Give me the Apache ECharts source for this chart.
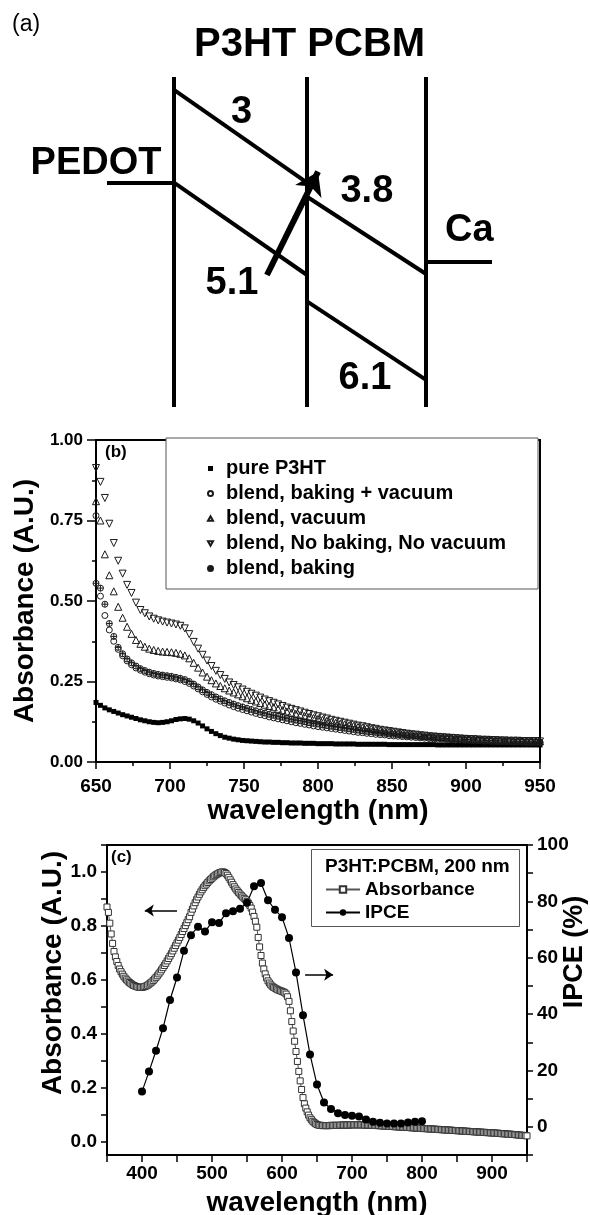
<!DOCTYPE html>
<html>
<head>
<meta charset="utf-8">
<title>P3HT:PCBM</title>
<script src="https://cdn.jsdelivr.net/npm/echarts@6/dist/echarts.min.js"></script>
<style>
  html, body { margin: 0; padding: 0; background: #fff; }
  #main { width: 590px; height: 1215px; }
</style>
</head>
<body>
<div id="main"></div>
<script>
// ---------- (a) energy diagram, in layer units (x: layer walls, y: depth 0..1) ----------
var layerEdgeX = [0, 1, 1.895];
var layerSpan = [0, 1];
var pedotLevel = [[-0.504, 0.32], [0, 0.32]];
var p3htLumo = [[0, 0.039], [1, 0.32]];
var p3htHomo = [[0, 0.32], [1, 0.6]];
var pcbmLumo = [[1, 0.363], [1.895, 0.597]];
var pcbmHomo = [[1, 0.68], [1.895, 0.918]];
var caLevel = [[1.895, 0.56], [2.391, 0.56]];
var transferArrow = [[0.699, 0.6], [1.083, 0.287]];
var levelNames = ['PEDOT', '3', '3.8', 'Ca', '5.1', '6.1'];
var levelNamePos = [[-0.586, 0.261], [0.508, 0.108], [1.45, 0.347], [2.22, 0.466], [0.436, 0.627], [1.436, 0.915]];

// ---------- (b) absorbance 650-950 nm, one point every 3 nm ----------
var bStart = 650, bStep = 3;
var bNames = ['pure P3HT', 'blend, baking + vacuum', 'blend, vacuum', 'blend, No baking, No vacuum', 'blend, baking'];
var pureP3HT = [
  0.185, 0.176, 0.168, 0.162, 0.157, 0.152, 0.147, 0.143, 0.139, 0.135,
  0.131, 0.128, 0.125, 0.123, 0.122, 0.123, 0.125, 0.128, 0.132, 0.134,
  0.135, 0.133, 0.128, 0.121, 0.112, 0.103, 0.095, 0.088, 0.082, 0.077,
  0.074, 0.071, 0.069, 0.067, 0.066, 0.065, 0.064, 0.063, 0.062, 0.062,
  0.061, 0.061, 0.060, 0.060, 0.059, 0.059, 0.059, 0.058, 0.058, 0.058,
  0.057, 0.057, 0.057, 0.057, 0.056, 0.056, 0.056, 0.056, 0.056, 0.055,
  0.055, 0.055, 0.055, 0.055, 0.055, 0.055, 0.054, 0.054, 0.054, 0.054,
  0.054, 0.054, 0.054, 0.054, 0.054, 0.054, 0.054, 0.053, 0.053, 0.053,
  0.053, 0.053, 0.053, 0.053, 0.053, 0.053, 0.053, 0.053, 0.053, 0.053,
  0.053, 0.053, 0.053, 0.053, 0.053, 0.053, 0.053, 0.053, 0.053, 0.053,
  0.053
];
var bakeVacuum = [
  0.765, 0.515, 0.455, 0.41, 0.375, 0.35, 0.33, 0.314, 0.302, 0.292,
  0.285, 0.279, 0.274, 0.27, 0.267, 0.265, 0.263, 0.261, 0.258, 0.255,
  0.25, 0.244, 0.236, 0.227, 0.218, 0.21, 0.202, 0.195, 0.189, 0.183,
  0.177, 0.172, 0.167, 0.163, 0.159, 0.155, 0.151, 0.147, 0.144, 0.14,
  0.137, 0.134, 0.131, 0.128, 0.125, 0.122, 0.12, 0.117, 0.115, 0.112,
  0.11, 0.108, 0.106, 0.104, 0.102, 0.1, 0.098, 0.096, 0.094, 0.092,
  0.091, 0.089, 0.088, 0.086, 0.085, 0.084, 0.082, 0.081, 0.08, 0.079,
  0.078, 0.077, 0.076, 0.075, 0.074, 0.073, 0.072, 0.071, 0.071, 0.07,
  0.069, 0.068, 0.068, 0.067, 0.067, 0.066, 0.066, 0.065, 0.065, 0.064,
  0.064, 0.063, 0.063, 0.063, 0.062, 0.062, 0.062, 0.061, 0.061, 0.061,
  0.06
];
var vacuumOnly = [
  0.81, 0.75, 0.645, 0.58, 0.53, 0.482, 0.448, 0.42, 0.398, 0.379,
  0.367, 0.358, 0.352, 0.348, 0.345, 0.343, 0.342, 0.341, 0.339, 0.336,
  0.331, 0.322, 0.308, 0.293, 0.278, 0.265, 0.254, 0.244, 0.236, 0.229,
  0.222, 0.216, 0.21, 0.204, 0.198, 0.193, 0.188, 0.183, 0.178, 0.174,
  0.17, 0.165, 0.161, 0.157, 0.153, 0.15, 0.146, 0.143, 0.14, 0.137,
  0.134, 0.131, 0.128, 0.125, 0.122, 0.119, 0.117, 0.114, 0.112, 0.109,
  0.107, 0.105, 0.103, 0.1, 0.098, 0.096, 0.094, 0.093, 0.091, 0.089,
  0.087, 0.086, 0.084, 0.083, 0.081, 0.08, 0.079, 0.078, 0.077, 0.076,
  0.075, 0.074, 0.073, 0.072, 0.071, 0.07, 0.07, 0.069, 0.068, 0.068,
  0.067, 0.067, 0.066, 0.066, 0.065, 0.065, 0.065, 0.064, 0.064, 0.064,
  0.064
];
var noBakeNoVac = [
  0.913, 0.87, 0.82, 0.74, 0.68, 0.625, 0.585, 0.55, 0.525, 0.495,
  0.472, 0.462, 0.452, 0.445, 0.44, 0.436, 0.433, 0.43, 0.427, 0.423,
  0.415, 0.397, 0.373, 0.352, 0.333, 0.315, 0.298, 0.283, 0.27, 0.258,
  0.247, 0.239, 0.232, 0.225, 0.218, 0.212, 0.206, 0.2, 0.194, 0.189,
  0.184, 0.179, 0.174, 0.169, 0.165, 0.161, 0.157, 0.153, 0.149, 0.145,
  0.142, 0.138, 0.135, 0.131, 0.128, 0.125, 0.122, 0.119, 0.116, 0.113,
  0.111, 0.108, 0.105, 0.103, 0.1, 0.098, 0.096, 0.094, 0.092, 0.09,
  0.088, 0.086, 0.085, 0.083, 0.082, 0.08, 0.079, 0.078, 0.077, 0.076,
  0.075, 0.074, 0.073, 0.072, 0.071, 0.071, 0.07, 0.069, 0.069, 0.068,
  0.068, 0.067, 0.067, 0.066, 0.066, 0.066, 0.065, 0.065, 0.065, 0.065,
  0.064
];
var bakeOnly = [
  0.555, 0.54, 0.49, 0.43, 0.39, 0.356, 0.336, 0.32, 0.308, 0.298,
  0.29, 0.284, 0.279, 0.275, 0.272, 0.27, 0.268, 0.266, 0.263, 0.26,
  0.256, 0.25, 0.242, 0.233, 0.224, 0.216, 0.209, 0.202, 0.196, 0.19,
  0.185, 0.18, 0.175, 0.171, 0.167, 0.163, 0.159, 0.155, 0.152, 0.148,
  0.145, 0.142, 0.139, 0.136, 0.133, 0.13, 0.128, 0.125, 0.122, 0.12,
  0.118, 0.115, 0.113, 0.111, 0.109, 0.107, 0.105, 0.103, 0.101, 0.099,
  0.097, 0.095, 0.094, 0.092, 0.09, 0.089, 0.087, 0.086, 0.085, 0.083,
  0.082, 0.081, 0.08, 0.079, 0.078, 0.077, 0.076, 0.075, 0.074, 0.073,
  0.072, 0.072, 0.071, 0.07, 0.07, 0.069, 0.068, 0.068, 0.067, 0.067,
  0.066, 0.066, 0.065, 0.065, 0.064, 0.064, 0.064, 0.063, 0.063, 0.063,
  0.062
];

// ---------- (c) absorbance (every 2 nm) and IPCE (every 10 nm) ----------
var absStart = 350, absStep = 2;
var absorbance = [
  0.87, 0.85, 0.81, 0.77, 0.735, 0.705, 0.685, 0.668, 0.653, 0.64,
  0.63, 0.621, 0.613, 0.606, 0.6, 0.595, 0.59, 0.586, 0.582, 0.579,
  0.577, 0.575, 0.573, 0.572, 0.572, 0.572, 0.573, 0.575, 0.577, 0.58,
  0.584, 0.588, 0.592, 0.597, 0.603, 0.609, 0.615, 0.622, 0.629, 0.637,
  0.645, 0.653, 0.661, 0.67, 0.679, 0.688, 0.697, 0.707, 0.717, 0.727,
  0.737, 0.747, 0.757, 0.768, 0.779, 0.79, 0.801, 0.812, 0.823, 0.834,
  0.85, 0.862, 0.874, 0.886, 0.897, 0.907, 0.917, 0.926, 0.934, 0.942,
  0.949, 0.955, 0.961, 0.967, 0.972, 0.977, 0.982, 0.986, 0.99, 0.993,
  0.996, 0.998, 1.0, 1.0, 0.998, 0.994, 0.988, 0.98, 0.971, 0.962,
  0.953, 0.945, 0.937, 0.93, 0.924, 0.918, 0.912, 0.907, 0.902, 0.897,
  0.891, 0.884, 0.876, 0.866, 0.851, 0.835, 0.817, 0.795, 0.757, 0.722,
  0.69, 0.662, 0.64, 0.622, 0.607, 0.596, 0.588, 0.581, 0.576, 0.572,
  0.569, 0.566, 0.563, 0.561, 0.559, 0.557, 0.555, 0.552, 0.547, 0.537,
  0.52, 0.485, 0.445, 0.41, 0.372, 0.334, 0.297, 0.26, 0.225, 0.193,
  0.163, 0.14, 0.124, 0.11, 0.098, 0.088, 0.081, 0.075, 0.07, 0.066,
  0.063, 0.061, 0.06, 0.06, 0.059, 0.059, 0.059, 0.059, 0.059, 0.059,
  0.06, 0.06, 0.06, 0.06, 0.06, 0.06, 0.06, 0.061, 0.061, 0.061,
  0.061, 0.061, 0.061, 0.061, 0.062, 0.062, 0.062, 0.062, 0.062, 0.062,
  0.062, 0.062, 0.062, 0.062, 0.061, 0.061, 0.061, 0.061, 0.061, 0.06,
  0.06, 0.06, 0.06, 0.059, 0.059, 0.059, 0.058, 0.058, 0.058, 0.057,
  0.057, 0.057, 0.056, 0.056, 0.056, 0.055, 0.055, 0.055, 0.054, 0.054,
  0.054, 0.053, 0.053, 0.053, 0.052, 0.052, 0.052, 0.051, 0.051, 0.051,
  0.05, 0.05, 0.05, 0.049, 0.049, 0.049, 0.048, 0.048, 0.048, 0.047,
  0.047, 0.047, 0.046, 0.046, 0.046, 0.045, 0.045, 0.045, 0.044, 0.044,
  0.044, 0.043, 0.043, 0.043, 0.042, 0.042, 0.042, 0.041, 0.041, 0.041,
  0.04, 0.04, 0.04, 0.039, 0.039, 0.039, 0.038, 0.038, 0.038, 0.037,
  0.037, 0.037, 0.036, 0.036, 0.036, 0.035, 0.035, 0.035, 0.034, 0.034,
  0.034, 0.033, 0.033, 0.033, 0.032, 0.032, 0.032, 0.031, 0.031, 0.031,
  0.03, 0.03, 0.029, 0.029, 0.029, 0.028, 0.028, 0.027, 0.027, 0.027,
  0.026, 0.026, 0.025, 0.025, 0.024, 0.024, 0.023, 0.023, 0.022, 0.022,
  0.021
];
var ipceStart = 400, ipceStep = 10;
var ipce = [
  12.5, 19.6, 27, 35, 45, 53, 62.5, 68, 71, 69.3,
  72.6, 72.3, 75.8, 76.5, 77.4, 79.5, 85.4, 86.5, 80.4, 77,
  74.4, 67, 54.8, 39.6, 25.7, 15, 8.6, 6.3, 4.8, 4.2,
  3.9, 3.7, 2.6, 1.8, 1.4, 1.2, 1.2, 1.2, 1.5, 1.8,
  2
];
var absArrow = [[450, 0.857], [404, 0.857]];
var ipceArrow = [[633, 54], [673, 54]];
var cAbsLabels = [0, 0.2, 0.4, 0.6, 0.8, 1.0];
var cAbsTicks = [0, 0.1, 0.2, 0.3, 0.4, 0.5, 0.6, 0.7, 0.8, 0.9, 1.0, 1.1];

var FONT = 'Liberation Sans, Arial, Helvetica, sans-serif';
var SYM_UP = 'path://M5,0L10,8.66L0,8.66Z';
var SYM_DOWN = 'path://M0,0L10,0L5,8.66Z';
var SYM_OPLUS = 'path://M5,0A5,5,0,1,1,5,10A5,5,0,1,1,5,0ZM0,5L10,5M5,0L5,10';

function pairs(start, step, values) {
  return values.map(function (v, i) { return [start + i * step, v]; });
}

function bSeries(name, values, symbol, size, filled) {
  return {
    name: name,
    type: 'scatter',
    xAxisIndex: 1,
    yAxisIndex: 1,
    symbol: symbol,
    symbolSize: size,
    itemStyle: filled
      ? { color: '#000', opacity: 1 }
      : { color: 'rgba(255,255,255,0)', borderColor: '#1a1a1a', borderWidth: 1, opacity: 1 },
    data: pairs(bStart, bStep, values)
  };
}

function boldText(size) {
  return { fontFamily: FONT, fontWeight: 'bold', fontSize: size, color: '#000' };
}

function axisCommon(extra) {
  var base = {
    type: 'value',
    splitLine: { show: false },
    axisLine: { show: true, onZero: false, lineStyle: { color: '#000', width: 2 } },
    axisTick: { show: true, length: 7, lineStyle: { color: '#000', width: 1.5 } },
    axisLabel: boldText(18)
  };
  for (var k in extra) base[k] = extra[k];
  return base;
}

var chart = echarts.init(document.getElementById('main'), null, { renderer: 'canvas' });

// walls and level segments of panel (a)
var segments = layerEdgeX.map(function (x) { return [[x, layerSpan[0]], [x, layerSpan[1]]]; })
  .concat([pedotLevel, p3htLumo, p3htHomo, pcbmLumo, pcbmHomo, caLevel]);

var option = {
  animation: false,
  backgroundColor: '#fff',
  title: [
    { text: '(a)', left: 12, top: 12, padding: 0,
      textStyle: { fontFamily: FONT, fontWeight: 'normal', fontSize: 23, color: '#000', lineHeight: 26 } },
    { text: 'P3HT PCBM', left: 194, top: 25, padding: 0,
      textStyle: Object.assign(boldText(40), { lineHeight: 40 }) },
    { text: '(b)', left: 105, top: 443, padding: 0,
      textStyle: Object.assign(boldText(17), { lineHeight: 18 }) },
    { text: '(c)', left: 111, top: 848, padding: 0,
      textStyle: Object.assign(boldText(17), { lineHeight: 18 }) }
  ],
  grid: [
    { left: 0, top: 0, width: 590, height: 420, outerBoundsMode: 'none' },
    { left: 96, top: 440, width: 444, height: 322, show: true, borderColor: '#000', borderWidth: 2, outerBoundsMode: 'none' },
    { left: 107, top: 845, width: 420, height: 310, show: true, borderColor: '#000', borderWidth: 2, outerBoundsMode: 'none' }
  ],
  legend: [
    {
      data: bNames,
      orient: 'vertical',
      left: 166, top: 438,
      itemWidth: 5, itemHeight: 5, itemGap: 0,
      padding: [18, 32, 8, 41],
      borderColor: '#555', borderWidth: 1,
      backgroundColor: '#fff',
      selectedMode: false,
      textStyle: Object.assign(boldText(20), { lineHeight: 25, padding: [0, 0, 0, 8] })
    },
    {
      data: ['Absorbance', 'IPCE'],
      orient: 'vertical',
      left: 325, top: 878,
      itemWidth: 34, itemHeight: 8, itemGap: 0,
      padding: 0,
      selectedMode: false,
      textStyle: Object.assign(boldText(19), { lineHeight: 23 })
    }
  ],
  xAxis: [
    { type: 'value', gridIndex: 0, min: -1.3083, max: 3.1278, show: false },
    axisCommon({
      gridIndex: 1, min: 650, max: 950, interval: 50,
      name: 'wavelength (nm)', nameLocation: 'middle', nameGap: 26, nameTextStyle: boldText(28),
      minorTick: { show: true, splitNumber: 2, length: 4, lineStyle: { color: '#000', width: 1.5 } },
      axisLabel: Object.assign(boldText(19), { margin: 15 })
    }),
    axisCommon({
      gridIndex: 2, min: 350, max: 950, interval: 50,
      name: 'wavelength (nm)', nameLocation: 'middle', nameGap: 34, nameTextStyle: boldText(28),
      axisLabel: Object.assign(boldText(19), {
        margin: 9,
        formatter: function (v) { return v % 100 === 0 ? String(v) : ''; }
      })
    })
  ],
  yAxis: [
    { type: 'value', gridIndex: 0, min: -0.2333, max: 1.0394, inverse: true, show: false },
    axisCommon({
      gridIndex: 1, min: 0, max: 1, interval: 0.25,
      name: 'Absorbance (A.U.)', nameLocation: 'middle', nameRotate: 90, nameGap: 57, nameTextStyle: boldText(28),
      minorTick: { show: true, splitNumber: 2, length: 4, lineStyle: { color: '#000', width: 1.5 } },
      axisTick: { show: true, length: 9, lineStyle: { color: '#000', width: 1.5 } },
      axisLabel: Object.assign(boldText(17), {
        margin: 13,
        formatter: function (v) { return v.toFixed(2); }
      })
    }),
    axisCommon({
      gridIndex: 2, min: -0.05, max: 1.1,
      axisTick: { show: true, length: 6, customValues: cAbsTicks, lineStyle: { color: '#000', width: 1.5 } },
      axisLabel: Object.assign(boldText(19), {
        margin: 10,
        customValues: cAbsLabels,
        formatter: function (v) { return v.toFixed(1); }
      })
    }),
    axisCommon({
      gridIndex: 2, position: 'right', min: -10, max: 100, interval: 10,
      axisTick: { show: true, length: 6, lineStyle: { color: '#000', width: 1.5 } },
      axisLabel: Object.assign(boldText(19), {
        margin: 10,
        formatter: function (v) { return v % 20 === 0 ? String(v) : ''; }
      })
    })
  ],
  graphic: [
    // legend frame and heading of panel (c)
    { type: 'rect', shape: { x: 311.5, y: 849.5, width: 208, height: 77 },
      style: { fill: '#fff', stroke: '#555', lineWidth: 1 }, z: 1 },
    { type: 'text', x: 325, y: 867, z: 5,
      style: { text: 'P3HT:PCBM, 200 nm', font: 'bold 19px ' + FONT, fill: '#000', textVerticalAlign: 'middle' } },
    { type: 'text', x: 53, y: 973, rotation: Math.PI / 2, z: 5,
      style: { text: 'Absorbance (A.U.)', font: 'bold 28px ' + FONT, fill: '#000', textAlign: 'center', textVerticalAlign: 'middle' } },
    { type: 'text', x: 575, y: 952, rotation: Math.PI / 2, z: 5,
      style: { text: 'IPCE (%)', font: 'bold 27px ' + FONT, fill: '#000', textAlign: 'center', textVerticalAlign: 'middle' } }
  ],
  series: [
    // (a) walls and energy levels
    {
      type: 'lines', coordinateSystem: 'cartesian2d', xAxisIndex: 0, yAxisIndex: 0,
      silent: true,
      lineStyle: { color: '#000', width: 4, opacity: 1 },
      data: segments.map(function (s) { return { coords: s }; })
    },
    {
      type: 'lines', coordinateSystem: 'cartesian2d', xAxisIndex: 0, yAxisIndex: 0,
      silent: true,
      symbol: ['none', 'arrow'], symbolSize: 22,
      lineStyle: { color: '#000', width: 6, opacity: 1 },
      data: [{ coords: transferArrow }]
    },
    {
      type: 'scatter', xAxisIndex: 0, yAxisIndex: 0, silent: true,
      symbolSize: 1, itemStyle: { color: 'rgba(0,0,0,0)', opacity: 1 },
      label: Object.assign(boldText(38), { show: true, position: 'inside', formatter: '{b}', opacity: 1, textBorderWidth: 0 }),
      data: levelNames.map(function (n, i) { return { name: n, value: levelNamePos[i] }; })
    },
    // (b)
    bSeries(bNames[0], pureP3HT, 'rect', 5, true),
    bSeries(bNames[1], bakeVacuum, 'circle', 6, false),
    bSeries(bNames[2], vacuumOnly, SYM_UP, 7, false),
    bSeries(bNames[3], noBakeNoVac, SYM_DOWN, 7, false),
    bSeries(bNames[4], bakeOnly, SYM_OPLUS, 6, false),
    // (c)
    {
      name: 'Absorbance', type: 'line', xAxisIndex: 2, yAxisIndex: 2,
      symbol: 'rect', symbolSize: 6, showAllSymbol: true,
      itemStyle: { color: '#fff', borderColor: '#333', borderWidth: 1, opacity: 1 },
      lineStyle: { color: '#555', width: 1 },
      data: pairs(absStart, absStep, absorbance)
    },
    {
      name: 'IPCE', type: 'line', xAxisIndex: 2, yAxisIndex: 3,
      symbol: 'circle', symbolSize: 8,
      itemStyle: { color: '#000', opacity: 1 },
      lineStyle: { color: '#000', width: 1.2 },
      data: pairs(ipceStart, ipceStep, ipce), z: 3
    },
    {
      type: 'lines', coordinateSystem: 'cartesian2d', xAxisIndex: 2, yAxisIndex: 2, silent: true,
      symbol: ['none', 'arrow'], symbolSize: 9,
      lineStyle: { color: '#000', width: 1.5, opacity: 1 },
      data: [{ coords: absArrow }]
    },
    {
      type: 'lines', coordinateSystem: 'cartesian2d', xAxisIndex: 2, yAxisIndex: 3, silent: true,
      symbol: ['none', 'arrow'], symbolSize: 9,
      lineStyle: { color: '#000', width: 1.5, opacity: 1 },
      data: [{ coords: ipceArrow }]
    }
  ]
};

chart.setOption(option);
</script>
</body>
</html>
